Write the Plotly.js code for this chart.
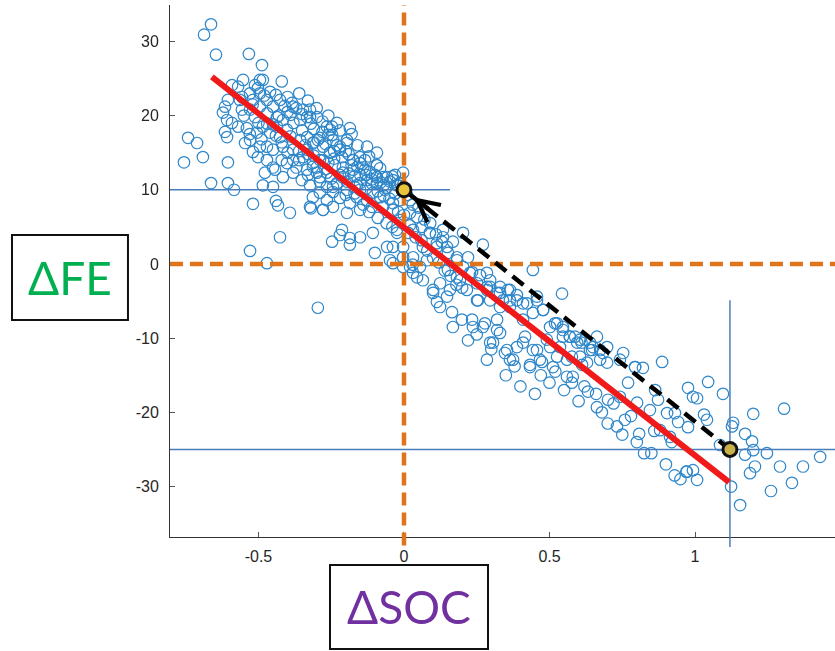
<!DOCTYPE html>
<html><head><meta charset="utf-8">
<script src="https://cdn.plot.ly/plotly-3.0.1.min.js"></script>
<style>html,body{margin:0;padding:0;background:#fff}#chart{width:835px;height:651px}</style>
</head><body><div id="chart"></div><script>
// ---- data: [ΔSOC, ΔFE] pairs ----
const outlierPts = [
 [-0.663,32.3],[-0.687,30.9],[-0.646,28.2],[-0.533,28.3],[-0.488,26.8],[-0.742,17.0],[-0.711,16.3],
 [-0.756,13.7],[-0.691,14.4],[-0.663,10.9],[-0.605,13.7],[-0.605,10.9],[-0.584,10.0],
 [-0.529,1.75],[-0.471,0.1],[-0.426,3.6],[-0.296,-5.9],[-0.519,8.1],[-0.44,8.5],[-0.433,7.9],
 [-0.392,6.9],[-0.32,7.5],[-0.278,7.3],[-0.213,4.6],[-0.22,3.9],[-0.186,3.5],[-0.186,2.6],
 [-0.247,3.0],[-0.151,3.6],[-0.107,4.2],[-0.1,1.5],[-0.058,2.3],[-0.038,0.1],[-0.003,-0.4],
 [0.03,-0.1],[-0.485,10.6],[-0.45,10.4]
];
const upperCluster = [
 [-0.495,24.8],[-0.485,24.8],[-0.512,24.1],[-0.502,23.7],[-0.570,23.9],[-0.591,24.1],[-0.529,23.0],
 [-0.557,22.5],[-0.495,23.0],[-0.615,21.2],[-0.605,22.1],[-0.622,20.4],[-0.608,19.4],[-0.615,17.8],
 [-0.608,17.1],[-0.591,19.0],[-0.57,18.5],[-0.557,20.8],[-0.54,18.3],[-0.546,16.3],[-0.529,16.7],
 [-0.519,15.1],[-0.502,14.4],[-0.495,15.8],[-0.471,14.0],[-0.478,12.3],[-0.443,12.7],[-0.416,11.7],
 [-0.381,12.3],[-0.351,11.3],[-0.323,10.6],[-0.289,11.1],[-0.265,10.4],[-0.230,10.9],[-0.196,11.1],
 [-0.162,10.6],[-0.127,11.3],[-0.093,13.3],[-0.151,13.6],[-0.134,12.7],[-0.175,14.0],[-0.213,14.4],
 [-0.237,13.3],[-0.254,15.0],[-0.278,15.8],[-0.254,18.1],[-0.265,18.5],[-0.323,20.8],[-0.333,19.8],
 [-0.357,19.4],[-0.381,21.2],[-0.385,21.7],[-0.426,22.1],[-0.450,21.2],[-0.436,19.8],[-0.416,19.4],
 [-0.402,18.1],[-0.426,17.1],[-0.46,17.7],[-0.471,15.8],[-0.45,15.4],[-0.416,15.8],[-0.381,15.4],
 [-0.357,16.7],[-0.333,17.1],[-0.313,16.3],[-0.347,14.4],[-0.381,14.0],[-0.402,13.6],[-0.313,13.6],
 [-0.289,14.0],[-0.299,12.3],[-0.333,12.7],[-0.265,12.3],[-0.21,12.3],[-0.175,12.7],[-0.093,11.7],
 [-0.058,11.7],[-0.038,11.3],[-0.093,10.9],[-0.151,10.0],[-0.196,10.0],[-0.244,9.7],[-0.347,20.8],
 [-0.299,19.8],[-0.244,16.7],[-0.22,15.8],[-0.196,16.7],[-0.436,18.5],[-0.485,18.5],[-0.505,17.7],
 [-0.512,19.8],[-0.495,21.2],[-0.471,22.1],[-0.529,20.8],[-0.519,22.1],[-0.564,22.1],[-0.553,24.8],
 [-0.323,19.8],[-0.247,18.5],[-0.247,17.4],[-0.22,15.4],[-0.175,14.0],[-0.134,14.0],[-0.093,13.3],
 [-0.117,12.4],[-0.072,11.7],[-0.048,11.1],[-0.024,10.6],[-0.065,10.0],[-0.082,9.0],[-0.107,9.6],
 [-0.127,8.6],[-0.162,9.0],[-0.186,8.2],[-0.22,8.9],[-0.244,7.7],[-0.265,8.6],[-0.289,9.6],
 [-0.313,9.0],[-0.323,7.7],[-0.278,7.3],[-0.196,6.9],[-0.151,7.3],[-0.11,7.7],[-0.072,7.7],
 [-0.038,8.2],[-0.014,8.6],[-0.151,10.9],[-0.21,11.7],[-0.244,10.4],[-0.289,11.7],[-0.313,13.1],
 [-0.278,14.0],[-0.254,15.0],[-0.333,15.4],[-0.296,16.7],[-0.196,16.3],[-0.151,14.4],[-0.127,15.8],
 [-0.093,15.0],[-0.082,12.9],[-0.031,12.0],[-0.003,12.3],[-0.014,10.9],[-0.186,18.3],[-0.23,19.0],
 [-0.40,20.5],[-0.37,21.0],[-0.35,18.0],[-0.31,18.2],[-0.29,17.0],[-0.27,16.2],[-0.24,14.2],
 [-0.21,13.0],[-0.19,12.2],[-0.17,11.8],[-0.15,12.0],[-0.13,10.2],[-0.11,10.8],[-0.09,9.8],
 [-0.07,9.2],[-0.05,8.8],[-0.03,9.5],[-0.44,22.8],[-0.42,16.4],[-0.39,17.2],[-0.36,15.2],
 [-0.33,14.8],[-0.30,13.0],[-0.27,12.8],[-0.25,11.5],[-0.23,10.8],[-0.20,9.3],[-0.17,9.5],
 [-0.14,8.0],[-0.12,7.0],[-0.09,6.2],[-0.06,5.5],[-0.04,5.0],[-0.47,20.3],[-0.45,18.8],
 [-0.38,19.0],[-0.34,16.0],[-0.31,16.4],[-0.28,19.2],[-0.26,17.4],[-0.23,16.0],[-0.2,15.2],
 [-0.18,13.3],[-0.16,16.0],[-0.14,13.0],[-0.12,14.5],[-0.1,12.0],[-0.08,11.0],[-0.06,10.3],
 [-0.04,11.8],[-0.02,10.6],[-0.5,19.0],[-0.48,22.7],[-0.46,23.2],[-0.42,24.6],[-0.4,22.5],
 [-0.36,23.0],[-0.33,22.0],[-0.3,21.0],[-0.26,20.0],[-0.22,18.0],[-0.18,17.5],[-0.55,20.0],
 [-0.53,17.5],[-0.49,16.8],[-0.45,13.0],[-0.42,14.0],[-0.37,13.0],[-0.33,12.0],
 [-0.41,21.3],[-0.39,20.1],[-0.35,20.2],[-0.32,18.9],[-0.28,17.8],[-0.24,15.2],[-0.19,14.8],
 [-0.16,13.1],[-0.13,12.0],[-0.11,11.4],[-0.07,10.6],[-0.44,17.3],[-0.40,15.0],[-0.36,14.0],
 [-0.31,14.6],[-0.26,13.6],[-0.22,12.0],[-0.17,10.4],[-0.43,20.0],[-0.47,18.9],[-0.52,21.5]
];
const centerBand = [
 [-0.038,7.3],[-0.014,5.9],[0.021,6.9],[0.031,4.6],[-0.024,4.2],[-0.038,2.3],[-0.003,0.9],
 [0.021,-0.4],[0.045,-1.8],[0.065,2.3],[0.089,4.2],[0.113,2.8],[0.134,3.6],[0.151,1.5],
 [0.182,0.5],[0.203,-0.4],[0.227,-1.2],[0.182,-1.8],[0.124,-2.6],[0.1,-3.9],[0.148,-4.4],
 [0.251,-2.6],[0.285,-3.1],[0.32,-3.9],[0.296,-4.9],[0.34,-4.9],[0.364,-5.8],[0.251,-4.9],
 [0.216,-3.5],[0.079,0.5],[0.031,0.9],[0.055,-0.4],[-0.048,0.5],
 [0.203,4.2],[0.271,2.6],[0.168,3.0],[0.148,2.3],[0.22,0.9],[0.443,-0.8],[0.543,-4.0],
 [0.234,-1.1],[0.261,-1.5],[0.296,-2.2],[0.33,-3.1],[0.357,-3.5],[0.388,-4.2],[0.409,-5.3],
 [0.457,-4.9],[0.478,-6.2],[0.519,-8.0],[0.546,-8.5],[0.588,-9.8],[0.622,-10.2],[0.649,-11.2],
 [0.684,-12.0],[0.742,-12.9],[0.794,-13.9],[0.062,5.0],[0.089,4.2],[0.113,2.3],[0.031,-1.2],
 [0.065,-2.2],[0.1,-3.5],[0.113,-5.1],[0.124,-5.8],[0.165,-6.5],[0.168,-8.5],[0.199,-7.5],
 [0.234,-7.5],[0.237,-8.5],[0.278,-8.0],[0.296,-10.6],[0.32,-8.9],[0.347,-12.0],[0.364,-12.9],
 [0.388,-11.2],[0.416,-9.8],[0.433,-13.6],[0.457,-11.6],[0.474,-13.2],[0.491,-10.2],[0.512,-13.9],
 [0.536,-11.2],[0.577,-12.5],[0.612,-13.6],[0.639,-11.6],[0.254,-4.9],[0.285,-3.5],[0.33,-5.8],
 [0.364,-4.9],[0.409,-7.5],[0.443,-6.6],[0.502,-8.5],[0.546,-9.8],[0.595,-10.6],[0.663,-9.8],
 [0.698,-11.2],[0.753,-12.0],[0.021,8.6],[0.045,6.3],[0.014,4.2],[-0.003,2.3],[-0.024,4.6],
 [0.134,4.6],[0.182,0.9],[0.151,-0.8],[0.192,-2.2],[0.158,-3.5],
 [0.0,6.6],[0.02,5.2],[0.04,3.6],[0.06,3.2],[0.08,1.8],[0.1,0.8],[0.12,0.2],[0.14,-0.9],
 [0.16,-1.6],[0.18,-2.8],[0.2,-3.2],[0.01,9.3],[0.03,8.0],[0.05,7.6],[0.07,6.0],[0.09,5.5],
 [0.11,4.0],[0.13,3.0],[-0.02,7.0]
];
const lowerBand = [
 [0.285,-1.2],[0.296,-3.1],[0.33,-3.9],[0.364,-3.5],[0.388,-4.9],[0.423,-5.3],[0.457,-4.4],
 [0.478,-6.2],[0.526,-8.0],[0.546,-8.9],[0.57,-9.8],[0.605,-10.2],[0.639,-10.6],[0.674,-11.6],
 [0.271,-8.5],[0.32,-7.5],[0.33,-9.3],[0.306,-10.6],[0.354,-11.6],[0.375,-12.9],[0.409,-10.6],
 [0.443,-11.6],[0.467,-12.9],[0.502,-11.2],[0.526,-12.5],[0.56,-12.9],[0.605,-12.5],[0.629,-13.3],
 [0.285,-12.9],[0.433,-13.9],
 [0.35,-15.0],[0.40,-16.5],[0.45,-17.5],[0.5,-16.0],[0.55,-17.0],[0.6,-18.5],[0.62,-16.5],
 [0.68,-20.0],[0.7,-21.5],[0.75,-23.0],[0.8,-24.0],[0.85,-25.5],[0.9,-27.0],[0.93,-28.5],
 [0.95,-29.0],[0.97,-28.0],[0.92,-24.0],[0.86,-22.5],[0.78,-20.5],[0.72,-18.8],[0.66,-17.5],
 [0.58,-15.2],[0.52,-14.5],[0.47,-15.0],[0.38,-13.8],[0.3,-11.5],[0.25,-9.5],[0.22,-10.3],
 [0.57,-9.8],[0.61,-10.6],[0.646,-11.6],[0.674,-12.9],[0.698,-13.3],[0.56,-15.2],[0.577,-16.0],
 [0.632,-17.2],[0.663,-19.3],[0.732,-21.9],[0.759,-21.0],[0.801,-18.7],[0.863,-17.0],[0.873,-18.3],
 [0.904,-20.1],[0.942,-21.3],[0.976,-22.0],[0.88,-22.4],[0.914,-23.3],[0.821,-14.0],[0.794,-13.9],
 [0.77,-16.0],[0.742,-17.9],[0.701,-18.3],[0.845,-19.7],[0.931,-20.1]
];
const rightTail = [
 [0.887,-13.2],[1.045,-15.9],[1.096,-17.5],[0.976,-16.7],[0.993,-17.9],[1.007,-18.1],[1.2,-20.2],
 [1.306,-19.5],[1.131,-21.4],[1.127,-21.9],[1.172,-22.9],[1.196,-23.9],[1.2,-25.1],[1.247,-25.5],
 [1.172,-25.7],[1.086,-24.4],[1.206,-27.3],[1.189,-28.2],[1.292,-27.3],[1.371,-27.3],[1.43,-26.0],
 [1.333,-29.5],[1.261,-30.6],[1.124,-30.0],[1.155,-32.5],[0.972,-28.0],[0.993,-27.8],[1.007,-29.1],
 [0.825,-25.5],[0.808,-22.9],[1.041,-21.0],[1.031,-20.3]
];
const fitSOC = [-0.66, 1.117];
const fitFE = [25.2, -29.4];
const pointA = [0, 10];        // (ΔSOC, ΔFE) upper-left highlighted point
const pointB = [1.12, -25];    // lower-right highlighted point
const blueVTop = -4.9;         // top of the thin vertical guide at ΔSOC = pointB
const blueHLineEnd = 0.158;    // end of the thin horizontal guide at ΔFE = pointA
const xTicks = [-0.5, 0, 0.5, 1];
const xTickText = ['-0.5', '0', '0.5', '1'];
const yTicks = [-30, -20, -10, 0, 10, 20, 30];
const yTickText = ['-30', '-20', '-10', '0', '10', '20', '30'];
const xRange = [-0.804, 1.481];
const yRange = [-36.8, 34.9];
const yLabel = 'ΔFE';
const xLabel = 'ΔSOC';

const all = outlierPts.concat(upperCluster, centerBand, lowerBand, rightTail);
const sx = all.map(p => p[0]);
const sy = all.map(p => p[1]);

const toPaperY = v => (v - yRange[0]) / (yRange[1] - yRange[0]);

const orange = '#e0741b';
const thinBlue = '#4a7ebb';

const feBox = {x0:-0.2376, x1:-0.0632, y0:0.4079, y1:0.5677};
const socBox = {x0:0.2406, x1:0.4782, y0:-0.2105, y1:-0.0526};

const shapes = [
  {type:'line', xref:'x', yref:'y', x0:xRange[0], x1:blueHLineEnd, y0:pointA[1], y1:pointA[1], line:{color:thinBlue, width:1.5}, layer:'above'},
  {type:'line', xref:'x', yref:'y', x0:xRange[0], x1:xRange[1], y0:pointB[1], y1:pointB[1], line:{color:thinBlue, width:1.5}, layer:'above'},
  {type:'line', xref:'x', yref:'paper', x0:pointB[0], x1:pointB[0], y0:-0.019, y1:toPaperY(blueVTop), line:{color:thinBlue, width:1.5}, layer:'above'},
  {type:'line', xref:'x', yref:'paper', x0:0, x1:0, y0:-0.016, y1:1, line:{color:orange, width:4.5, dash:'13px,7px'}, layer:'above'},
  {type:'line', xref:'paper', yref:'y', x0:0, x1:1, y0:0, y1:0, line:{color:orange, width:4.5, dash:'13px,7px'}, layer:'above'},
  {type:'line', xref:'x', yref:'y', x0:fitSOC[0], x1:fitSOC[1], y0:fitFE[0], y1:fitFE[1], line:{color:'#f01a1a', width:6}, layer:'above'},
  {type:'line', xref:'x', yref:'y', x0:pointB[0], x1:pointA[0], y0:pointB[1], y1:pointA[1], line:{color:'#000', width:4.5, dash:'14px,8px'}, layer:'above'},
  {type:'circle', xref:'x', yref:'y', xsizemode:'pixel', ysizemode:'pixel', xanchor:pointA[0], yanchor:pointA[1], x0:-7, x1:7, y0:-7, y1:7, fillcolor:'#e8c33c', line:{color:'#111', width:3}, layer:'above'},
  {type:'circle', xref:'x', yref:'y', xsizemode:'pixel', ysizemode:'pixel', xanchor:pointB[0], yanchor:pointB[1], x0:-7, x1:7, y0:-7, y1:7, fillcolor:'#c8b04a', line:{color:'#111', width:3}, layer:'above'},
  Object.assign({type:'rect', xref:'paper', yref:'paper', line:{color:'#111', width:2}, fillcolor:'#fff', layer:'above'}, feBox),
  Object.assign({type:'rect', xref:'paper', yref:'paper', line:{color:'#111', width:2}, fillcolor:'#fff', layer:'above'}, socBox)
];

const annotations = [
  {x:pointA[0], y:pointA[1], xref:'x', yref:'y', ax:26, ay:20.5, showarrow:true, arrowhead:5, arrowsize:0.95, arrowwidth:4.5, arrowcolor:'#000', standoff:12, text:''},
  {x:(feBox.x0+feBox.x1)/2, y:(feBox.y0+feBox.y1)/2, xref:'paper', yref:'paper', xanchor:'center', yanchor:'middle', text:yLabel, showarrow:false, font:{family:'Lato, Open Sans, sans-serif', size:46, color:'#00b050'}},
  {x:(socBox.x0+socBox.x1)/2, y:(socBox.y0+socBox.y1)/2, xref:'paper', yref:'paper', xanchor:'center', yanchor:'middle', text:xLabel, showarrow:false, font:{family:'Lato, Open Sans, sans-serif', size:46, color:'#7030a0'}}
];

const traces = [{
  type:'scatter', mode:'markers', x:sx, y:sy,
  marker:{symbol:'circle-open', size:11.5, color:'#0a72c0', line:{width:1.2}},
  opacity:0.85, hoverinfo:'skip', showlegend:false
}];

const tickFont = {family:'Liberation Sans, Arial, sans-serif', size:16, color:'#262626'};
const layout = {
  width:835, height:651,
  margin:{l:170, r:0, t:5, b:114},
  paper_bgcolor:'#fff', plot_bgcolor:'#fff',
  showlegend:false,
  xaxis:{range:xRange, tickvals:xTicks, ticktext:xTickText, ticks:'inside', ticklen:5, tickcolor:'#555',
         showline:true, linecolor:'#333', linewidth:1, showgrid:false, zeroline:false, tickfont:tickFont,
         ticklabelstandoff:5, mirror:false},
  yaxis:{range:yRange, tickvals:yTicks, ticktext:yTickText, ticks:'inside', ticklen:5, tickcolor:'#555',
         showline:true, linecolor:'#333', linewidth:1, showgrid:false, zeroline:false, tickfont:tickFont,
         ticklabelstandoff:7, mirror:false},
  shapes:shapes, annotations:annotations
};
Plotly.newPlot('chart', traces, layout, {displayModeBar:false, staticPlot:true});
</script></body></html>
